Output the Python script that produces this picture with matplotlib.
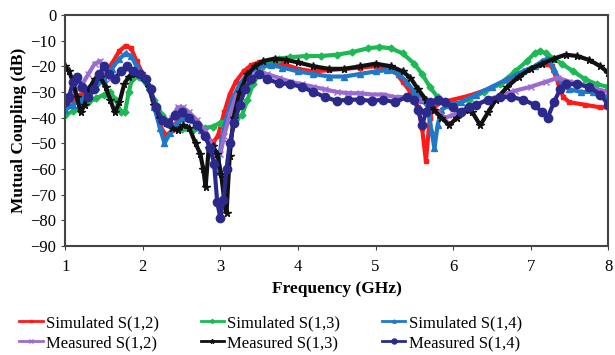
import numpy as np
import matplotlib.pyplot as plt

# Frequency (GHz) / mutual coupling (dB)
sim12_f = [1.0, 1.1, 1.2, 1.3, 1.4, 1.5, 1.6, 1.7, 1.78, 1.85, 1.92, 2.0, 2.08, 2.15, 2.22, 2.3, 2.38, 2.45,
           2.52, 2.6, 2.7, 2.8, 2.9, 2.97, 3.05, 3.12, 3.2, 3.3, 3.4, 3.5, 3.6, 3.8, 4.0, 4.2, 4.4, 4.6, 4.8,
           5.0, 5.15, 5.25, 5.35, 5.45, 5.55, 5.6, 5.65, 5.7, 5.75, 5.85, 6.0, 6.2, 6.4, 6.6, 6.8, 6.95, 7.1,
           7.2, 7.27, 7.35, 7.42, 7.5, 7.7, 7.9, 8.0]
sim12_db = [-35, -33, -31, -30, -27, -24, -19, -14, -12, -13, -18, -23, -28, -36, -43, -47, -45, -41,
            -38, -39, -42, -46, -50, -47, -38, -31, -26, -22, -19.5, -18.5, -18, -19, -21, -22, -21.5, -21, -20.5,
            -20, -20.5, -22, -26, -30, -36, -44, -57, -40, -36, -34, -33, -31.5, -29.5, -27, -24, -21.5, -19.5,
            -19, -20, -26, -32, -34, -35, -36, -36]

sim13_f = [1.0, 1.1, 1.2, 1.3, 1.4, 1.5, 1.58, 1.65, 1.72, 1.77, 1.82, 1.86, 1.95, 2.05, 2.15, 2.25, 2.35,
           2.5, 2.65, 2.8, 2.9, 3.0, 3.1, 3.2, 3.28, 3.35, 3.42, 3.5, 3.6, 3.75, 3.9, 4.1, 4.3, 4.5, 4.7, 4.9,
           5.05, 5.2, 5.35, 5.5, 5.6, 5.7, 5.8, 5.9, 6.0, 6.2, 6.4, 6.6, 6.8, 6.95, 7.05, 7.12, 7.2, 7.3, 7.4,
           7.55, 7.7, 7.85, 8.0]
sim13_db = [-39, -37.5, -36, -34, -32.5, -31, -30, -33, -38, -38, -30, -25, -24, -27, -33, -39, -42,
            -44.5, -45, -44, -43.5, -42, -41, -40.5, -39, -33, -27, -23, -19, -17, -16.5, -16, -16, -15.5, -14.5, -13,
            -12.5, -13, -15, -19, -23, -28, -32, -34, -35, -33, -30, -27, -22, -18, -15, -14, -15, -17, -19,
            -22, -25, -27, -28]

sim14_f = [1.0, 1.1, 1.2, 1.3, 1.4, 1.5, 1.6, 1.7, 1.78, 1.85, 1.92, 2.0, 2.08, 2.15, 2.22, 2.28, 2.35, 2.45,
           2.55, 2.65, 2.75, 2.85, 2.92, 2.96, 3.02, 3.08, 3.15, 3.25, 3.35, 3.5, 3.65, 3.8, 4.0, 4.2, 4.4, 4.6,
           4.8, 5.0, 5.15, 5.3, 5.4, 5.5, 5.6, 5.68, 5.72, 5.76, 5.8, 5.85, 5.95, 6.1, 6.3, 6.5, 6.7, 6.9, 7.05,
           7.15, 7.22, 7.3, 7.4, 7.5, 7.65, 7.8, 7.9, 8.0]
sim14_db = [-37, -35, -33, -31, -28, -25, -21, -17, -15, -16, -20, -24, -28, -36, -44, -50, -46, -42,
            -40, -41, -45, -50, -57, -61, -48, -40, -33, -27, -23, -20, -19.5, -20.5, -22, -23, -24, -24,
            -23, -22, -21.5, -23, -26, -30, -33, -36, -45, -52, -43, -37, -35, -34, -31, -28, -25, -22, -20,
            -18, -17, -21, -27, -29, -30, -30, -31, -32]

meas12_f = [1.0, 1.08, 1.15, 1.22, 1.3, 1.38, 1.45, 1.52, 1.58, 1.65, 1.72, 1.8, 1.9, 2.0, 2.08, 2.15, 2.22,
            2.3, 2.38, 2.45, 2.52, 2.6, 2.7, 2.8, 2.88, 2.95, 3.0, 3.05, 3.12, 3.2, 3.3, 3.4, 3.5, 3.6, 3.75,
            3.9, 4.05, 4.2, 4.35, 4.5, 4.65, 4.8, 4.95, 5.1, 5.25, 5.4, 5.5, 5.6, 5.7, 5.8, 5.9, 6.0, 6.15,
            6.3, 6.45, 6.6, 6.8, 7.0, 7.2, 7.35, 7.5, 7.65, 7.8, 8.0]
meas12_db = [-33, -32, -29, -27, -23, -19, -18, -22, -25, -24, -22, -21, -22, -24, -28, -35, -40,
             -42, -40, -36, -36, -38, -41, -45, -50, -55, -54, -47, -39, -32, -27, -24, -22, -23, -24.5,
             -26, -27, -28, -29, -30, -30.5, -30.5, -31, -31, -32, -32, -33, -33, -35, -38, -40, -39, -37,
             -35, -33, -31.5, -29.5, -28, -26, -24.5, -26, -27, -28.5, -30]

meas13_f = [1.0, 1.05, 1.1, 1.15, 1.2, 1.25, 1.3, 1.38, 1.45, 1.52, 1.58, 1.64, 1.7, 1.76, 1.82, 1.9, 2.0,
            2.08, 2.15, 2.22, 2.3, 2.38, 2.45, 2.52, 2.6, 2.68, 2.74, 2.78, 2.81, 2.85, 2.9, 2.96, 3.01, 3.05,
            3.08, 3.12, 3.17, 3.25, 3.35, 3.45, 3.55, 3.7, 3.85, 4.0, 4.2, 4.4, 4.6, 4.8, 5.0, 5.2, 5.35,
            5.45, 5.55, 5.65, 5.75, 5.85, 5.95, 6.05, 6.15, 6.25, 6.35, 6.45, 6.55, 6.7, 6.85, 7.0, 7.15,
            7.3, 7.45, 7.6, 7.75, 7.9, 8.0]
meas13_db = [-20, -22, -26, -32, -38, -35, -29, -25, -24, -28, -33, -38, -34, -27, -24, -23, -24,
             -28, -35, -40, -42, -44, -45, -43, -44, -50, -54, -60, -67, -52, -51, -54, -62, -72,
             -77, -55, -40, -30, -23, -20, -18, -17, -17.5, -18.5, -20, -21, -21, -20, -19, -20, -22,
             -24.5, -29, -33, -37, -40, -43, -40, -37, -38, -43, -38, -33, -28, -24, -21, -19,
             -17, -15.5, -16, -17.5, -20, -22.5]

meas14_f = [1.0, 1.05, 1.1, 1.15, 1.22, 1.3, 1.37, 1.44, 1.5, 1.57, 1.64, 1.72, 1.8, 1.88, 1.96, 2.04, 2.1,
            2.17, 2.25, 2.33, 2.42, 2.5, 2.6, 2.7, 2.8, 2.87, 2.92, 2.96, 3.0, 3.04, 3.08, 3.12, 3.18, 3.25,
            3.32, 3.4, 3.5, 3.6, 3.75, 3.9, 4.05, 4.2, 4.35, 4.5, 4.65, 4.8, 4.95, 5.1, 5.25, 5.4, 5.5, 5.55,
            5.6, 5.65, 5.7, 5.8, 5.9, 6.0, 6.1, 6.2, 6.3, 6.45, 6.6, 6.75, 6.9, 7.05, 7.15, 7.22, 7.3, 7.38,
            7.46, 7.6, 7.75, 7.9, 8.0]
meas14_db = [-34, -32, -26, -24, -28, -32, -29, -23, -20, -23, -25, -22, -20, -22, -23, -25, -29,
             -36, -41, -42, -39, -38, -40, -43, -47, -52, -58, -73, -79, -72, -60, -50, -42, -35,
             -29, -25, -23, -25, -26.5, -27, -28, -30, -32, -33.5, -33, -33, -33.5, -33, -34, -32, -33, -37,
             -43, -38, -34, -33, -34, -36, -38, -36, -35, -33, -32, -32, -33, -35, -38, -40, -34, -29,
             -27, -27, -28, -31, -35]

series = [
    ("Simulated S(1,2)", sim12_f, sim12_db, "#ff1a1a", "s", 3.0),
    ("Simulated S(1,3)", sim13_f, sim13_db, "#1db954", "D", 3.5),
    ("Simulated S(1,4)", sim14_f, sim14_db, "#1f78c8", "^", 4.0),
    ("Measured S(1,2)", meas12_f, meas12_db, "#9b6bd0", "x", 4.5),
    ("Measured S(1,3)", meas13_f, meas13_db, "#111111", "*", 5.5),
    ("Measured S(1,4)", meas14_f, meas14_db, "#2b2a8c", "o", 6.0),
]

plt.rcParams['font.family'] = ['Liberation Serif', 'DejaVu Serif']

fig = plt.figure(figsize=(6.15, 3.55), dpi=100)
ax = fig.add_axes([0.106, 0.307, 0.883, 0.651])

lines = {}
for name, f, db, color, marker, ms in series:
    ln, = ax.plot(f, db, color=color, marker=marker, markersize=ms, linewidth=3.0, label=name)
    lines[name] = ln

ax.set_xlim(1, 8)
ax.set_ylim(-90, 0)
ax.set_xticks(np.arange(1, 9, 1))
ax.set_yticks(np.arange(-90, 1, 10))
ax.tick_params(labelsize=12, length=3, color="#444444")
ax.tick_params(axis="x", pad=6)
for s in ax.spines.values():
    s.set_color("#444444")
    s.set_linewidth(1.5)

ax.set_xlabel("Frequency (GHz)", fontsize=12.5, fontweight="bold", labelpad=5)
ax.set_ylabel("Mutual Coupling (dB)", fontsize=12.5, fontweight="bold", labelpad=2)

order = ["Simulated S(1,2)", "Measured S(1,2)", "Simulated S(1,3)",
         "Measured S(1,3)", "Simulated S(1,4)", "Measured S(1,4)"]
leg = fig.legend([lines[n] for n in order], order, loc="center", bbox_to_anchor=(0.44, 0.062),
                 ncol=3, frameon=False, fontsize=12, handlelength=1.4, handletextpad=0.2,
                 columnspacing=2.5, labelspacing=0.25, markerscale=0.6)
for h in leg.legend_handles:
    h.set_linewidth(2)

fig.savefig("out.png", dpi=100)
